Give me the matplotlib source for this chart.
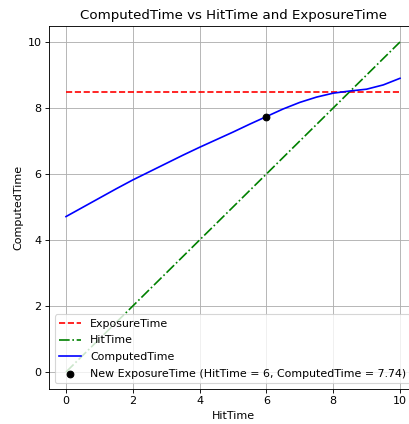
import matplotlib
matplotlib.use("Agg")
import matplotlib.pyplot as plt

hit_time = [0, 0.5, 1, 1.5, 2, 2.5, 3, 3.5, 4, 4.5, 5, 5.5, 6, 6.5, 7, 7.5, 8, 8.5, 9, 9.5, 10]
computed_time = [4.71, 4.99, 5.27, 5.55, 5.82, 6.07, 6.32, 6.57, 6.81, 7.04, 7.27,
                 7.51, 7.74, 7.97, 8.17, 8.33, 8.45, 8.515, 8.57, 8.70, 8.90]
exposure_time = 8.5
new_hit = 6
new_computed = 7.74

DPI = 80
fig = plt.figure(figsize=(409 / DPI, 424 / DPI), dpi=DPI)
ax = fig.add_axes([49.3 / 409, 1 - 388.5 / 424, 367.4 / 409, 363 / 424])

ax.plot([hit_time[0], hit_time[-1]], [exposure_time, exposure_time], 'r--', label='ExposureTime')
ax.plot(hit_time, hit_time, 'g-.', label='HitTime')
ax.plot(hit_time, computed_time, 'b-', label='ComputedTime')
ax.scatter([new_hit], [new_computed], color='black', zorder=5,
           label=f'New ExposureTime (HitTime = {new_hit}, ComputedTime = {new_computed})')

ax.set_xlim(-0.5, 10.5)
ax.set_ylim(-0.5, 10.5)
ax.set_title('ComputedTime vs HitTime and ExposureTime')
ax.set_xlabel('HitTime')
ax.set_ylabel('ComputedTime')
ax.grid(True)
ax.legend(loc='lower left', fontsize=9.9, labelspacing=0.6)

fig.savefig('out.png', dpi=DPI)
